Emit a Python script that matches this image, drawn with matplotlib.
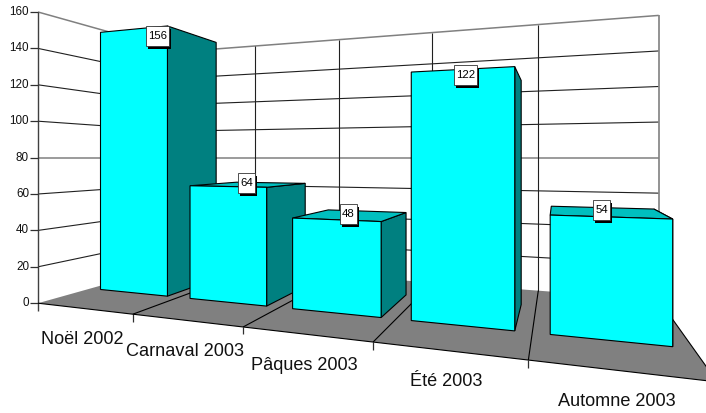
import matplotlib
matplotlib.use("Agg")
import matplotlib.pyplot as plt
from matplotlib.patches import Polygon, Rectangle

plt.rcParams['font.family'] = ['Liberation Sans', 'DejaVu Sans']

categories = ['Noël 2002', 'Carnaval 2003', 'Pâques 2003', 'Été 2003', 'Automne 2003']
values = [156, 64, 48, 122, 54]
y_ticks = [0, 20, 40, 60, 80, 100, 120, 140, 160]

GAP = 0.12
D_FRONT, D_BACK = 0.3, 0.7
CYAN, TEAL, TOP = '#00FFFF', '#008080', '#00BFBF'
GREY = '#808080'


def proj(i, d, v):
    """Perspective projection of (category position, depth, value) to pixels."""
    w = 1 - 0.0702 * i + 0.375 * d
    return (38 + 85.5 * i + 209 * d) / w, 157.6 + 1.82 * (80 - v) / w


fig = plt.figure(figsize=(7.06, 4.13), dpi=100)
ax = fig.add_axes([0, 0, 1, 1])
ax.set_xlim(0, 706)
ax.set_ylim(413, 0)
ax.axis('off')
n = len(categories)
vmax = y_ticks[-1]


def line(p, q, color='black', lw=0.8, z=1):
    ax.plot([p[0], q[0]], [p[1], q[1]], color=color, lw=lw, zorder=z,
            solid_capstyle='butt')


# floor
ax.add_patch(Polygon([proj(0, 0, 0), proj(n, 0, 0), proj(n, 1, 0), proj(0, 1, 0)],
                     closed=True, facecolor=GREY, edgecolor='none', zorder=1))
line(proj(0, 0, 0), proj(n, 0, 0), z=2)
for k in range(1, n + 1):
    line(proj(k, 0, 0), proj(k, 1, 0), z=2)

# walls
for t in y_ticks[1:]:
    c, lw = (GREY, 1.1) if t in (80, vmax) else ('#202020', 0.8)
    line(proj(0, 0, t), proj(0, 1, t), c, lw)
    line(proj(0, 1, t), proj(n, 1, t), c, lw)
for k in range(n):
    line(proj(k, 1, 0), proj(k, 1, vmax), '#202020', 0.8)
line(proj(n, 1, 0), proj(n, 1, vmax), GREY, 1.2)
line(proj(0, 0, 0), proj(0, 0, vmax), '#404040', 1.0)

# value axis ticks and labels
for t in y_ticks:
    x, y = proj(0, 0, t)
    line((x - 8, y), (x, y), '#303030', 0.9)
    ax.text(x - 9, y, str(t), ha='right', va='center', fontsize=8.4, color='#111111')
x0, y0 = proj(0, 0, 0)
line((x0, y0), (x0, y0 + 7.5), '#404040', 1.0)

# category ticks and labels
for k in range(1, n + 1):
    x, y = proj(k, 0, 0)
    line((x, y), (x, y + 7.5), '#303030', 0.9)
for k, name in enumerate(categories):
    x, y = proj(k + 0.5, 0, 0)
    ax.text(x - 1, y + 31, name, ha='center', va='center', fontsize=13.1, color='#111111')

# bars
for k, val in enumerate(values):
    l, r = k + GAP, k + 1 - GAP
    side = [proj(r, D_FRONT, 0), proj(r, D_BACK, 0), proj(r, D_BACK, val), proj(r, D_FRONT, val)]
    ax.add_patch(Polygon(side, closed=True, facecolor=TEAL, edgecolor='black', lw=0.8, zorder=3 + k))
    if val < 80:
        top = [proj(l, D_FRONT, val), proj(r, D_FRONT, val), proj(r, D_BACK, val), proj(l, D_BACK, val)]
        ax.add_patch(Polygon(top, closed=True, facecolor=TOP, edgecolor='black', lw=0.8, zorder=3 + k))
    front = [proj(l, D_FRONT, 0), proj(r, D_FRONT, 0), proj(r, D_FRONT, val), proj(l, D_FRONT, val)]
    ax.add_patch(Polygon(front, closed=True, facecolor=CYAN, edgecolor='black', lw=0.8, zorder=3 + k))

# value labels
for k, val in enumerate(values):
    x, y = proj(k + 0.5, 0.5, val)
    x -= 3.5
    y -= 1.5
    s = str(val)
    bw = 23 if len(s) == 3 else 17
    bh = 20
    ax.add_patch(Rectangle((x - bw / 2 + 2, y - bh / 2 + 3), bw, bh, facecolor='black',
                           edgecolor='none', zorder=20))
    ax.add_patch(Rectangle((x - bw / 2, y - bh / 2), bw, bh, facecolor='white',
                           edgecolor='#333333', lw=0.6, zorder=21))
    ax.text(x, y, s, ha='center', va='center', fontsize=8.2, color='black', zorder=22)

fig.savefig('out.png', dpi=100)
